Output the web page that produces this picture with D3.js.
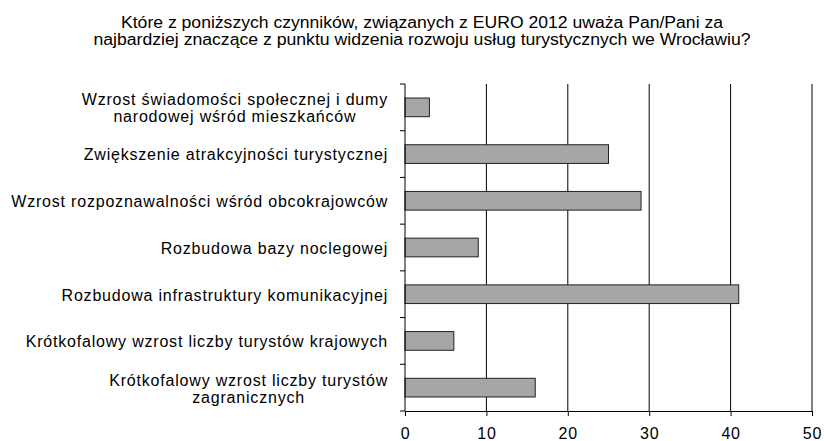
<!DOCTYPE html>
<html>
  <head>
    <meta charset="UTF-8">
    <title>EURO 2012 - rozwój usług turystycznych</title>
    <style>
      body { margin: 0; background: #fff; }
      text { font-family: "Liberation Sans", Arial, sans-serif; fill: #000; }
    </style>
  </head>
  <body>
    <svg></svg>

    <script src="https://d3js.org/d3.v7.min.js"></script>
    <script>

// data
var categories = [
  ["Wzrost świadomości społecznej i dumy", "narodowej wśród mieszkańców"],
  ["Zwiększenie atrakcyjności turystycznej"],
  ["Wzrost rozpoznawalności wśród obcokrajowców"],
  ["Rozbudowa bazy noclegowej"],
  ["Rozbudowa infrastruktury komunikacyjnej"],
  ["Krótkofalowy wzrost liczby turystów krajowych"],
  ["Krótkofalowy wzrost liczby turystów", "zagranicznych"]
];
var values = [3, 25, 29, 9, 41, 6, 16];
var xTicks = [0, 10, 20, 30, 40, 50];
var titleLines = [
  "Które z poniższych czynników, związanych z EURO 2012  uważa Pan/Pani za",
  "najbardziej znaczące z punktu widzenia rozwoju usług turystycznych we Wrocławiu?"
];
var titleWidths = [602, 657];

var config = {
  width: 824,
  height: 441,
  plotW: 407,
  plotH: 327,
  margin: { top: 84, left: 405 }
};

var svg = d3.select("svg")
  .attr("width", config.width)
  .attr("height", config.height);

var margin = config.margin,
  width = config.plotW,
  height = config.plotH;

var g = svg.append("g")
  .attr("transform", `translate(${margin.left},${margin.top})`);

var x = d3.scaleLinear()
  .domain([0, 50])
  .range([0, width]);

var y = d3.scaleBand()
  .domain(d3.range(categories.length))
  .range([0, height])
  .paddingInner(0.6)
  .paddingOuter(0.3);

// vertical grid lines
g.selectAll(".grid")
  .data(xTicks.slice(1))
  .enter().append("line")
    .attr("class", "grid")
    .attr("x1", function(d){ return x(d); })
    .attr("x2", function(d){ return x(d); })
    .attr("y1", 0)
    .attr("y2", height)
    .attr("stroke", "#000")
    .attr("stroke-width", 1);

// bars
g.selectAll(".bar")
  .data(values)
  .enter().append("rect")
    .attr("class", "bar")
    .attr("x", x(0))
    .attr("y", function(d, i){ return y(i); })
    .attr("width", function(d){ return x(d) - x(0); })
    .attr("height", y.bandwidth())
    .attr("fill", "#a6a6a6")
    .attr("stroke", "#222")
    .attr("stroke-width", 1);

// x axis
var xAxis = g.append("g")
  .attr("transform", `translate(0,${height})`)
  .call(d3.axisBottom(x).tickValues(xTicks).tickSize(5).tickSizeOuter(0).tickPadding(12));

xAxis.selectAll("text")
  .style("font-size", "16px")
  .style("letter-spacing", "0.8px")
  .style("font-family", "'Liberation Sans', Arial, sans-serif");
xAxis.selectAll("path, line").attr("stroke", "#000");

// y axis: ticks between categories
var yAxis = g.append("g");
yAxis.append("line")
  .attr("x1", 0).attr("x2", 0)
  .attr("y1", 0).attr("y2", height)
  .attr("stroke", "#000");

var step = height / categories.length;
yAxis.selectAll(".ytick")
  .data(d3.range(categories.length + 1))
  .enter().append("line")
    .attr("class", "ytick")
    .attr("x1", -5).attr("x2", 0)
    .attr("y1", function(d){ return d * step; })
    .attr("y2", function(d){ return d * step; })
    .attr("stroke", "#000");

// category labels (lines centred among themselves, block right aligned)
var labels = g.selectAll(".label")
  .data(categories)
  .enter().append("text")
    .attr("class", "label")
    .style("font-size", "16px")
    .style("letter-spacing", "0.8px")
    .attr("transform", function(d, i){
      return `translate(-17,${y(i) + y.bandwidth() / 2})`;
    });

labels.each(function(lines){
  var t = d3.select(this);
  var n = lines.length;
  lines.forEach(function(line, k){
    t.append("tspan")
      .attr("x", 0)
      .attr("y", (k - (n - 1) / 2) * 17)
      .attr("dy", "0.4em")
      .text(line);
  });
  var w = d3.max(t.selectAll("tspan").nodes(), function(n){ return n.getComputedTextLength(); });
  t.selectAll("tspan")
    .attr("text-anchor", "middle")
    .attr("x", -w / 2);
});

// title
svg.append("g")
  .selectAll("text")
  .data(titleLines)
  .enter().append("text")
    .attr("x", 422)
    .attr("y", function(d, i){ return 28 + i * 17; })
    .attr("text-anchor", "middle")
    .attr("textLength", function(d, i){ return titleWidths[i]; })
    .attr("lengthAdjust", "spacingAndGlyphs")
    .style("font-size", "16px")
    .text(function(d){ return d; });

    </script>
  </body>
</html>
